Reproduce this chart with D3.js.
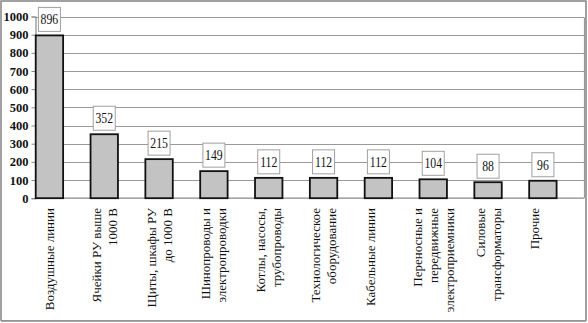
<!DOCTYPE html>
<html>
<head>
<meta charset="utf-8">
<script src="https://cdn.jsdelivr.net/npm/d3@7"></script>
<style>
  html, body { margin: 0; padding: 0; background: #fff; }
  svg { display: block; }
</style>
</head>
<body>
<svg id="chart" width="588" height="323"></svg>
<script>
// Categories (line breaks mark wrapped axis labels)
const categories = [
  "Воздушные линии",
  "Ячейки РУ выше\n1000 В",
  "Щиты, шкафы РУ\nдо 1000 В",
  "Шинопроводы и\nэлектропроводки",
  "Котлы, насосы,\nтрубопроводы",
  "Технологическое\nоборудование",
  "Кабельные линии\n",
  "Переносные и\nпередвижные\nэлектроприемники",
  "Силовые\nтрансформаторы",
  "Прочие\n"
];
const values = [896, 352, 215, 149, 112, 112, 112, 104, 88, 96];
const yTicks = [0, 100, 200, 300, 400, 500, 600, 700, 800, 900, 1000];

const svg = d3.select("#chart");
const W = 588, H = 323;

// Outer frame
svg.append("rect")
  .attr("x", 1).attr("y", 1)
  .attr("width", W - 3).attr("height", H - 3)
  .attr("fill", "#fff")
  .attr("stroke", "#8a8a8a")
  .attr("stroke-width", 1.6);

const plot = { left: 35, right: 584, top: 16.5, bottom: 198.2 };

const y = d3.scaleLinear().domain([0, 1000]).range([plot.bottom, plot.top]);
const x = d3.scaleBand()
  .domain(categories)
  .range([22, 570.3])
  .paddingInner(0.5)
  .paddingOuter(0.25);

// Horizontal gridlines
svg.append("g")
  .selectAll("line")
  .data(yTicks.filter(d => d > 0))
  .join("line")
  .attr("x1", plot.left).attr("x2", plot.right)
  .attr("y1", d => Math.round(y(d)) + 0.5)
  .attr("y2", d => Math.round(y(d)) + 0.5)
  .attr("stroke", "#9a9a9a")
  .attr("stroke-width", 1.2);

// Right edge of the plot area
svg.append("line")
  .attr("x1", plot.right + 0.5).attr("x2", plot.right + 0.5)
  .attr("y1", Math.round(y(1000)) + 0.5).attr("y2", plot.bottom)
  .attr("stroke", "#9a9a9a").attr("stroke-width", 1.2);

// Y axis
const yAxis = d3.axisLeft(y)
  .tickValues(yTicks)
  .tickSize(4)
  .tickPadding(3)
  .tickFormat(d3.format("d"));
const gy = svg.append("g")
  .attr("transform", `translate(${plot.left + 0.5},0)`)
  .call(yAxis);
gy.select(".domain").attr("stroke", "#8a8a8a").attr("stroke-width", 1.2);
gy.selectAll(".tick line").attr("stroke", "#8a8a8a");
gy.selectAll(".tick text")
  .attr("font-family", "'Liberation Serif', 'Times New Roman', serif")
  .attr("font-size", 12.5)
  .attr("font-weight", "bold")
  .attr("fill", "#111");

// X axis baseline
svg.append("line")
  .attr("x1", plot.left).attr("x2", plot.right)
  .attr("y1", plot.bottom).attr("y2", plot.bottom)
  .attr("stroke", "#8a8a8a").attr("stroke-width", 1.2);

// Bars
svg.append("g")
  .selectAll("rect")
  .data(values)
  .join("rect")
  .attr("x", (d, i) => x(categories[i]))
  .attr("y", d => y(d))
  .attr("width", x.bandwidth())
  .attr("height", d => y(0) - y(d))
  .attr("fill", "#c3c3c3")
  .attr("stroke", "#111")
  .attr("stroke-width", 1.8);

// Value labels in boxes
const boxW = 22, boxH = 24;
const lab = svg.append("g")
  .selectAll("g")
  .data(values)
  .join("g")
  .attr("transform", (d, i) =>
    `translate(${x(categories[i]) + x.bandwidth() / 2},${y(d) - 4 - boxH / 2})`);
lab.append("rect")
  .attr("x", -boxW / 2).attr("y", -boxH / 2)
  .attr("width", boxW).attr("height", boxH)
  .attr("fill", "#fff")
  .attr("stroke", "#a0a0a0")
  .attr("stroke-width", 1);
lab.append("text")
  .attr("transform", "scale(0.84,1)")
  .attr("text-anchor", "middle")
  .attr("dy", "0.35em")
  .attr("font-family", "'Liberation Serif', 'Times New Roman', serif")
  .attr("font-size", 14)
  .attr("fill", "#111")
  .text(d => d);

// Rotated category labels
const fs = 13, lineH = 16;
const cat = svg.append("g")
  .selectAll("g")
  .data(categories)
  .join("g")
  .attr("transform", d => `translate(${x(d) + x.bandwidth() / 2},208) rotate(-90)`);
cat.each(function(d) {
  const lines = d.split("\n");
  const n = lines.length;
  d3.select(this).selectAll("text")
    .data(lines)
    .join("text")
    .attr("x", 0)
    .attr("y", (t, i) => (i - (n - 1) / 2) * lineH + 0.35 * fs)
    .attr("text-anchor", "end")
    .attr("font-family", "'Liberation Serif', 'Times New Roman', serif")
    .attr("font-size", fs)
    .attr("fill", "#111")
    .text(t => t);
});

// Redraw the frame's bottom edge over labels that run past it
svg.append("rect")
  .attr("x", 0).attr("y", H - 2.2)
  .attr("width", W).attr("height", 3)
  .attr("fill", "#fff");
svg.append("line")
  .attr("x1", 1).attr("x2", W - 2)
  .attr("y1", H - 2).attr("y2", H - 2)
  .attr("stroke", "#8a8a8a").attr("stroke-width", 1.6);
</script>
</body>
</html>
